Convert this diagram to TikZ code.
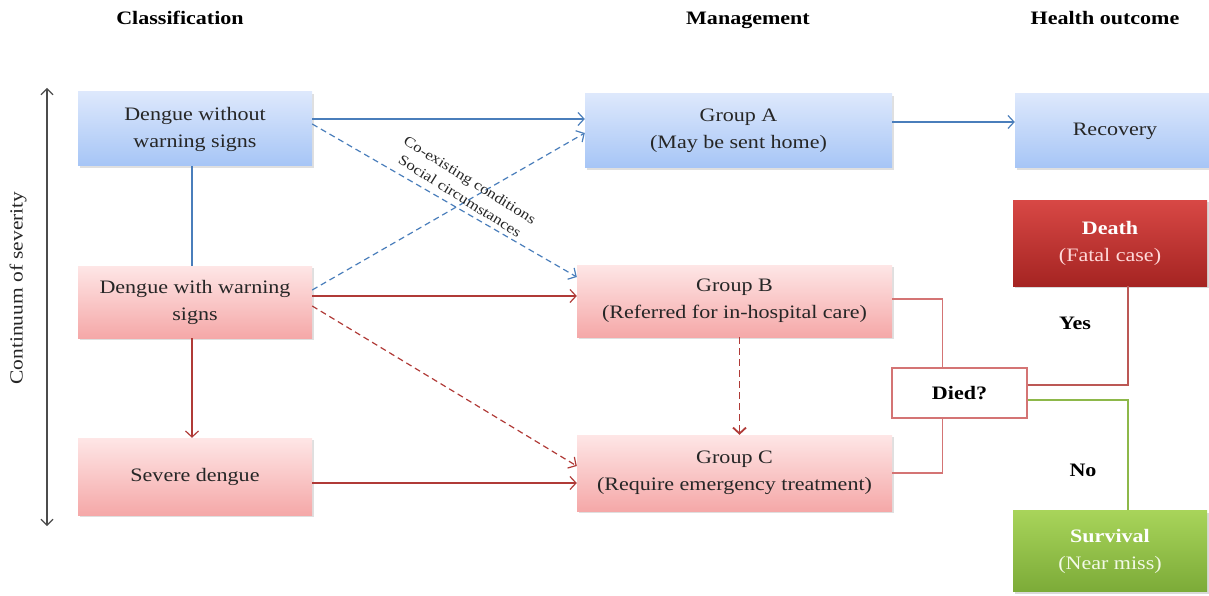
\documentclass[tikz,border=0pt]{standalone}
\usepackage{fontspec}
\setmainfont{Liberation Serif}[FakeStretch=1.16]
\usetikzlibrary{arrows.meta,calc,shadows}

\definecolor{bluetop}{HTML}{DDE8FC}
\definecolor{bluebot}{HTML}{A6C5F6}
\definecolor{pinktop}{HTML}{FEE6E6}
\definecolor{pinkbot}{HTML}{F5A8A8}
\definecolor{deathtop}{HTML}{D84845}
\definecolor{deathbot}{HTML}{A52422}
\definecolor{survtop}{HTML}{A8D45A}
\definecolor{survbot}{HTML}{7CAB38}
\definecolor{blueline}{HTML}{4A7EBB}
\definecolor{redline}{HTML}{B03A37}
\definecolor{pinkline}{HTML}{D47474}
\definecolor{greenline}{HTML}{8DB84A}
\definecolor{textgray}{HTML}{262626}

\begin{document}
\begin{tikzpicture}[x=1pt, y=-1pt, inner sep=0pt, font=\fontsize{19}{27}\selectfont]
    \tikzstyle{bluebox}=[rectangle, top color=bluetop, bottom color=bluebot, text=textgray, align=center,
        drop shadow={shadow xshift=1.5pt, shadow yshift=-2pt, opacity=0.25}]
    \tikzstyle{pinkbox}=[rectangle, top color=pinktop, bottom color=pinkbot, text=textgray, align=center,
        drop shadow={shadow xshift=1.5pt, shadow yshift=-2pt, opacity=0.25}]
    \tikzstyle{head}=[font=\fontsize{19}{22}\selectfont\bfseries, text=black, anchor=base]
    \tikzstyle{B1}=[-{Straight Barb[length=6pt,width=13pt]}, draw=blueline, line width=1.2pt]
    \tikzstyle{B2}=[-{Straight Barb[length=6pt,width=13pt]}, draw=blueline, line width=1.2pt, dash pattern=on 6pt off 4pt]
    \tikzstyle{R1}=[-{Straight Barb[length=6pt,width=13pt]}, draw=redline, line width=1.2pt]
    \tikzstyle{R2}=[-{Straight Barb[length=6pt,width=13pt]}, draw=redline, line width=1.2pt, dash pattern=on 6pt off 4pt]

    \useasboundingbox (0,0) rectangle (1209,596);

    % column headings
    \node[head] (hClass) at (180,25) {Classification};
    \node[head] (hMan) at (748,25) {Management};
    \node[head] (hOut) at (1105,25) {Health outcome};

    % severity axis
    \coordinate (sevTop) at (47,88);
    \coordinate (sevBot) at (47,526);
    \draw[{Straight Barb[length=6pt,width=12pt]}-{Straight Barb[length=6pt,width=12pt]}, draw=black!70, line width=1.1pt] (sevTop) -- (sevBot);
    \node[rotate=90, font=\fontsize{18.5}{22}\selectfont, text=textgray] (sevLbl) at (18,288) {Continuum of severity};

    % classification
    \node[bluebox, minimum width=234pt, minimum height=74pt] (dnw) at (195,129) {Dengue without\\warning signs};
    \node[pinkbox, minimum width=234pt, minimum height=72pt] (dww) at (195,302) {Dengue with warning\\signs};
    \node[pinkbox, minimum width=234pt, minimum height=77pt] (sev) at (195,476.5) {Severe dengue};

    % management
    \node[bluebox, minimum width=307pt, minimum height=74pt] (grpA) at (738.5,131) {Group A\\(May be sent home)};
    \node[pinkbox, minimum width=315pt, minimum height=72pt] (grpB) at (734.5,301) {Group B\\(Referred for in-hospital care)};
    \node[pinkbox, minimum width=315pt, minimum height=76pt] (grpC) at (734.5,473) {Group C\\(Require emergency treatment)};

    % outcome
    \node[bluebox, minimum width=200pt, minimum height=74pt] (recov) at (1115,131) {Recovery};
    \node[rectangle, top color=deathtop, bottom color=deathbot, align=center, minimum width=194pt, minimum height=86pt,
        drop shadow={shadow xshift=1.5pt, shadow yshift=-2pt, opacity=0.3}] (death) at (1110,243)
        {\textcolor{white}{\bfseries Death}\\\textcolor{pink!60}{(Fatal case)}};
    \node[rectangle, top color=survtop, bottom color=survbot, align=center, minimum width=194pt, minimum height=81pt,
        drop shadow={shadow xshift=1.5pt, shadow yshift=-2pt, opacity=0.3}] (surv) at (1110,551)
        {\textcolor{white}{\bfseries Survival}\\\textcolor{white!85!survtop}{(Near miss)}};
    \node[rectangle, draw=pinkline, fill=white, line width=1.2pt, minimum width=135pt, minimum height=50pt,
        font=\fontsize{19}{22}\selectfont\bfseries] (died) at (959.5,393) {Died?};

    % connectors
    \draw[B1] ($(dnw.east)+(0,-10)$) -- ($(grpA.west)+(0,-12)$);
    \draw[B2] ($(dnw.east)+(0,-5)$) -- ($(grpB.west)+(0,-24)$);
    \draw[B2] ($(dww.east)+(0,-12)$) -- ($(grpA.west)+(0,2)$);
    \draw[draw=blueline, line width=1.2pt] ($(dnw.south)+(-3,0)$) -- ($(dww.north)+(-3,0)$);
    \draw[R1] ($(dww.east)+(0,-6)$) -- ($(grpB.west)+(0,-5)$);
    \draw[R2] ($(dww.east)+(0,4)$) -- ($(grpC.west)+(0,-7)$);
    \draw[R1] ($(dww.south)+(-3,0)$) -- ($(sev.north)+(-3,0)$);
    \draw[R1] ($(sev.east)+(0,6.5)$) -- ($(grpC.west)+(0,10)$);
    \draw[R2, line width=1.8pt, dash pattern=on 7pt off 4pt] ($(grpB.south)+(5,0)$) -- ($(grpC.north)+(5,0)$);
    \draw[B1] ($(grpA.east)+(0,-9)$) -- ($(recov.west)+(0,-9)$);

    \draw[draw=pinkline, line width=1.2pt] ($(grpB.east)+(0,-2)$) -| ($(died.north)+(-17,0)$);
    \draw[draw=pinkline, line width=1.2pt] (grpC.east) -| ($(died.south)+(-17,0)$);
    \draw[draw=redline!85, line width=1.2pt] ($(died.east)+(0,-8)$) -| ($(death.south)+(18,0)$);
    \draw[draw=greenline, line width=1.2pt] ($(died.east)+(0,7)$) -| ($(surv.north)+(18,0)$);

    % labels
    \node[rotate=-32, align=center, font=\fontsize{14.5}{19}\selectfont, text=textgray] (coLbl) at (465,188)
        {Co-existing conditions\\Social circumstances};
    \node[font=\fontsize{19}{22}\selectfont\bfseries] (yesLbl) at (1075,323) {Yes};
    \node[font=\fontsize{19}{22}\selectfont\bfseries] (noLbl) at (1083,470) {No};
\end{tikzpicture}
\end{document}
